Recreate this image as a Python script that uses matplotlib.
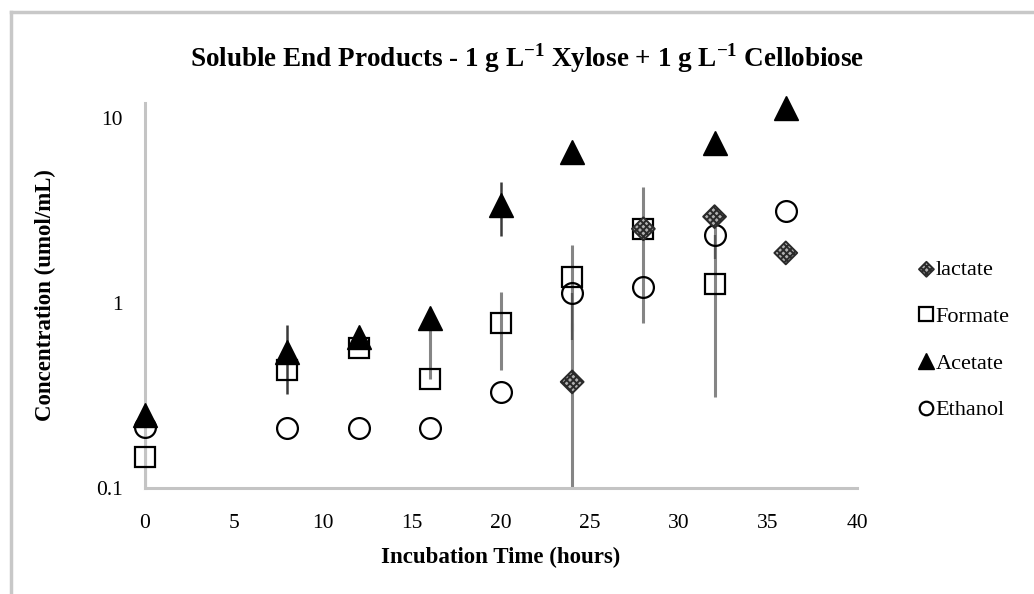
import matplotlib
matplotlib.use("Agg")
import matplotlib.pyplot as plt
from matplotlib.lines import Line2D

plt.rcParams['font.family'] = ['Liberation Serif', 'DejaVu Serif']
plt.rcParams['mathtext.fontset'] = 'custom'
plt.rcParams['mathtext.rm'] = 'Liberation Serif'
plt.rcParams['mathtext.bf'] = 'Liberation Serif:bold'
plt.rcParams['hatch.linewidth'] = 1.4

# data (umol/mL)
t_lactate = [24, 28, 32, 36]
lactate = [0.374, 2.51, 2.92, 1.86]
lactate_err = [0.40, 0, 0, 0]

t_formate = [0, 8, 12, 16, 20, 24, 28, 32]
formate = [0.147, 0.434, 0.57, 0.39, 0.78, 1.38, 2.51, 1.27]
formate_err_lo = [0.05, 0, 0, 0, 0.345, 0.68, 1.73, 0.96]
formate_err_hi = [0.05, 0, 0, 0.44, 0.37, 0.68, 1.73, 1.30]

t_acetate = [0, 8, 12, 16, 20, 24, 32, 36]
acetate = [0.248, 0.54, 0.65, 0.83, 3.39, 6.55, 7.3, 11.3]
acetate_err = [0, 0.22, 0, 0, 1.1, 0, 0, 0]

t_ethanol = [0, 8, 12, 16, 20, 24, 28, 32, 36]
ethanol = [0.214, 0.211, 0.211, 0.211, 0.33, 1.13, 1.22, 2.33, 3.14]
ethanol_err_lo = [0, 0, 0, 0, 0, 0.5, 0, 0.6, 0]

x_ticks = [0, 5, 10, 15, 20, 25, 30, 35, 40]
y_ticks = [0.1, 1, 10]
y_ticklabels = ['0.1', '1', '10']

fig = plt.figure(figsize=(10.34, 5.94), dpi=100)
ax = fig.add_axes([0.1402, 0.1785, 0.6886, 0.6481])
ax.set_yscale('log')
ax.set_xlim(0, 40)
ax.set_ylim(0.1, 12)

ecol = '#858585'
ax.errorbar(t_formate, formate, yerr=[formate_err_lo, formate_err_hi], fmt='none',
            ecolor=ecol, elinewidth=2.2, capsize=0, zorder=2)
ax.errorbar(t_acetate, acetate, yerr=acetate_err, fmt='none',
            ecolor='#3a3a3a', elinewidth=1.8, capsize=0, zorder=2)
ax.errorbar(t_lactate, lactate, yerr=lactate_err, fmt='none',
            ecolor=ecol, elinewidth=2.2, capsize=0, zorder=2)
ax.errorbar(t_ethanol, ethanol, yerr=[ethanol_err_lo, [0] * len(ethanol)], fmt='none',
            ecolor='#555555', elinewidth=1.6, capsize=0, zorder=2)

h_eth, = ax.plot(t_ethanol, ethanol, 'o', ms=15, mfc='none', mec='black', mew=1.6,
                 clip_on=False, zorder=3, label='Ethanol')
h_for, = ax.plot(t_formate, formate, 's', ms=15, mfc='none', mec='black', mew=1.6,
                 clip_on=False, zorder=4, label='Formate')
h_ace, = ax.plot(t_acetate, acetate, '^', ms=17, mfc='black', mec='black', mew=1,
                 clip_on=False, zorder=5, label='Acetate')
h_lac = ax.scatter(t_lactate, lactate, marker='D', s=135, facecolor='#b0b0b0',
                   edgecolor='#2a2a2a', hatch='xxxxx', linewidths=1.4,
                   clip_on=False, zorder=6, label='lactate')

for s in ['top', 'right']:
    ax.spines[s].set_visible(False)
for s in ['left', 'bottom']:
    ax.spines[s].set_color('#c4c4c4')
    ax.spines[s].set_linewidth(2.2)

ax.set_xticks(x_ticks)
ax.set_yticks(y_ticks)
ax.set_yticklabels(y_ticklabels)
ax.minorticks_off()
ax.tick_params(length=0, labelsize=15.5)
ax.tick_params(axis='x', pad=19)
ax.tick_params(axis='y', pad=16)

fig.text(0.51, 0.902,
         r'Soluble End Products - 1 g L$^{\mathbf{-1}}$ Xylose + 1 g L$^{\mathbf{-1}}$ Cellobiose',
         fontsize=19.5, fontweight='bold', ha='center', va='center')
ax.set_xlabel('Incubation Time (hours)', fontsize=16.5, fontweight='bold', labelpad=10)
ax.set_ylabel('Concentration (umol/mL)', fontsize=16.5, fontweight='bold', labelpad=29)

leg = fig.legend(handles=[h_lac, h_for, h_ace, h_eth], loc='upper left',
                 bbox_to_anchor=(0.882, 0.578), frameon=False, fontsize=16,
                 markerscale=0.65, handlelength=0.5, handletextpad=0.15,
                 labelspacing=1.18, borderaxespad=0)

# light grey frame round the chart area
fig.add_artist(Line2D([0.0106, 1.0], [0.98, 0.98], transform=fig.transFigure,
                      color='#c8c8c8', lw=2.5))
fig.add_artist(Line2D([0.0106, 0.0106], [0.0, 0.98], transform=fig.transFigure,
                      color='#c8c8c8', lw=2.5))

fig.savefig('out.png', dpi=100)
